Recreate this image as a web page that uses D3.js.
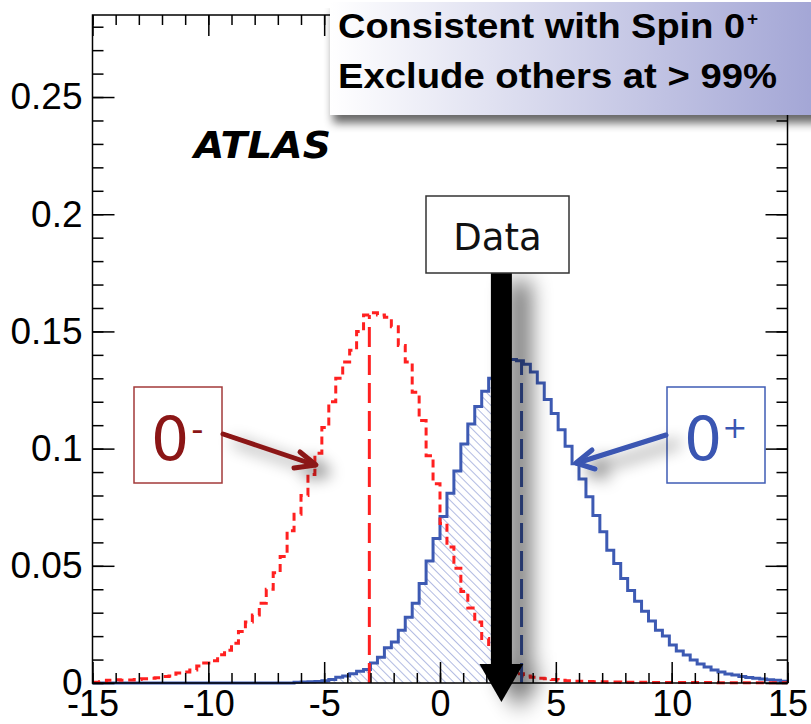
<!DOCTYPE html>
<html><head><meta charset="utf-8">
<script src="https://cdn.jsdelivr.net/npm/d3@7"></script>
<style>body{margin:0;background:#fff}</style>
</head><body><svg id="c" width="811" height="724"></svg>
<script>
// ---- data ----
const binLow = -15, binHigh = 15, nBins = 100;
const blueValues = [
 0,0,0,0,0,0,0,0,0,0, 0,0,0,0,0,0,0,0,0,0, 0,0,0,0,0,0,0,0,0,
 0.0003,0.0004,0.0005,0.0006,0.001,0.0015,0.0025,0.003,0.004,0.005,0.0058,
 0.0085,0.011,0.015,0.0175,0.0225,0.028,0.034,0.0425,0.052,0.0617,
 0.071,0.081,0.0905,0.102,0.1105,0.118,0.1245,0.130,0.134,0.137,
 0.138,0.1375,0.136,0.1327,0.128,0.121,0.115,0.108,0.101,0.0935,
 0.087,0.0795,0.0715,0.0645,0.0566,0.051,0.0446,0.0395,0.0349,0.0306,
 0.0264,0.0225,0.020,0.0162,0.0136,0.0119,0.0098,0.0081,0.0068,0.0055,
 0.0047,0.0038,0.0034,0.0028,0.0024,0.002,0.0017,0.0014,0.0012,0.0008];
const redValues = [
 0.0003,0.0005,0.0012,0.0014,0.0012,0.0013,0.0015,0.0018,0.002,0.0022,
 0.0028,0.003,0.0043,0.0047,0.0055,0.0072,0.0085,0.0095,0.012,0.014,
 0.017,0.022,0.026,0.029,0.034,0.040,0.047,0.054,0.065,0.072,
 0.080,0.089,0.098,0.109,0.120,0.130,0.137,0.142,0.150,0.157,
 0.158,0.157,0.156,0.152,0.144,0.137,0.124,0.112,0.097,0.085,
 0.068,0.058,0.049,0.039,0.032,0.026,0.019,0.015,0.010,0.007,
 0.005,0.004,0.003,0.0025,0.002,0.0018,0.0015,0.0012,0.001,0.0008,
 0.0007,0.0006,0.0005,0.0005,0.0004,0.0004,0.0003,0.0003,0.0003,0.0003,
 0.0002,0.0002,0.0002,0.0002,0.0002,0.0002,0.0002,0.0002,0.0002,0.0002,
 0.0001,0.0001,0.0001,0.0001,0.0001,0.0001,0.0001,0.0001,0.0001,0.0001];
const xTickValues = [-15,-10,-5,0,5,10,15];
const xTickLabels = ["-15","-10","-5","0","5","10","15"];
const yTickValues = [0,0.05,0.1,0.15,0.2,0.25];
const yTickLabels = ["0","0.05","0.1","0.15","0.2","0.25"];
const dataValue = 2.65;
const medianRed = -3.05, medianBlue = 3.52;
const boxLines = ["Consistent with Spin 0", "Exclude others at > 99%"];

// ---- scales ----
const svg = d3.select("#c");
const X0 = 92.5, X1 = 787.5, Y0 = 683, Y1 = 15;
const x = d3.scaleLinear().domain([binLow, binHigh]).range([X0, X1]);
const y = d3.scaleLinear().domain([0, 0.285]).range([Y0, Y1]);
const bw = (binHigh - binLow) / nBins;

const defs = svg.append("defs");
const mkShadow = (id, dx, dy, sd, op) => {
  const f = defs.append("filter").attr("id", id).attr("filterUnits", "userSpaceOnUse")
    .attr("x", 0).attr("y", 0).attr("width", 811).attr("height", 724);
  f.append("feGaussianBlur").attr("in", "SourceAlpha").attr("stdDeviation", sd).attr("result", "b");
  f.append("feOffset").attr("in", "b").attr("dx", dx).attr("dy", dy).attr("result", "o");
  const ct = f.append("feComponentTransfer").attr("in", "o").attr("result", "s");
  ct.append("feFuncA").attr("type", "linear").attr("slope", op);
  const m = f.append("feMerge");
  m.append("feMergeNode").attr("in", "s");
  m.append("feMergeNode").attr("in", "SourceGraphic");
};
mkShadow("sh", 18, 8, 11, 0.6);
mkShadow("shArr", 12, 8, 8, 0.55);
mkShadow("shBox", 3, 8, 5, 0.6);

const pat = defs.append("pattern").attr("id", "hatch").attr("patternUnits", "userSpaceOnUse")
  .attr("width", 6).attr("height", 6).attr("patternTransform", "rotate(-45)");
pat.append("line").attr("x1", 0).attr("y1", 0).attr("x2", 0).attr("y2", 6)
  .attr("stroke", "#8796d2").attr("stroke-width", 1.3);

const grad = defs.append("linearGradient").attr("id", "boxg").attr("x1", 0).attr("x2", 1).attr("y1", 0).attr("y2", 0);
grad.append("stop").attr("offset", 0).attr("stop-color", "#ffffff");
grad.append("stop").attr("offset", 1).attr("stop-color", "#a2a5d5");

// step path builder
const stepPts = vals => {
  const p = [];
  vals.forEach((v, i) => { p.push([binLow + i * bw, v]); p.push([binLow + (i + 1) * bw, v]); });
  return p;
};
const line = d3.line().x(d => x(d[0])).y(d => y(d[1]));

// hatched area under blue up to data
const clip = defs.append("clipPath").attr("id", "clipData");
clip.append("rect").attr("x", X0).attr("y", Y1).attr("width", x(dataValue) - X0).attr("height", Y0 - Y1);
const area = d3.area().x(d => x(d[0])).y0(y(0)).y1(d => y(d[1]));
svg.append("path").attr("d", area(stepPts(blueValues))).attr("fill", "url(#hatch)")
  .attr("clip-path", "url(#clipData)");

// histograms
svg.append("path").attr("d", line(stepPts(blueValues))).attr("fill", "none")
  .attr("stroke", "#3d5ab3").attr("stroke-width", 3);
svg.append("path").attr("d", line(stepPts(redValues))).attr("fill", "none")
  .attr("stroke", "#ff2020").attr("stroke-width", 3).attr("stroke-dasharray", "8,5");

// medians
const binVal = (vals, v) => vals[Math.floor((v - binLow) / bw)];
svg.append("line").attr("x1", x(medianRed)).attr("x2", x(medianRed))
  .attr("y1", y(0)).attr("y2", y(binVal(redValues, medianRed)))
  .attr("stroke", "#ff2020").attr("stroke-width", 3).attr("stroke-dasharray", "20,8");
svg.append("line").attr("x1", x(medianBlue)).attr("x2", x(medianBlue))
  .attr("y1", y(0)).attr("y2", y(binVal(blueValues, medianBlue)))
  .attr("stroke", "#3d5ab3").attr("stroke-width", 3).attr("stroke-dasharray", "20,8");

// axes
const font = "'Liberation Sans', Arial, sans-serif";
const styleAxis = g => {
  g.select(".domain").remove();
  g.selectAll("line").attr("stroke", "#000").attr("stroke-width", 1.5);
  g.selectAll("text").attr("font-family", font).attr("font-size", 36).attr("fill", "#000");
};
const minorX = d3.range(binLow, binHigh + 0.001, 1);
const minorY = d3.range(0, 0.2851, 0.01);
svg.append("g").attr("transform", `translate(0,${Y0})`)
  .call(d3.axisBottom(x).tickValues(minorX).tickSize(-10).tickFormat("")).call(styleAxis);
svg.append("g").attr("transform", `translate(0,${Y0})`)
  .call(d3.axisBottom(x).tickValues(xTickValues).tickSize(-21).tickPadding(7)
    .tickFormat((d, i) => xTickLabels[i])).call(styleAxis);
svg.append("g").attr("transform", `translate(0,${Y1})`)
  .call(d3.axisTop(x).tickValues(minorX).tickSize(-10).tickFormat("")).call(styleAxis);
svg.append("g").attr("transform", `translate(0,${Y1})`)
  .call(d3.axisTop(x).tickValues(xTickValues).tickSize(-21).tickFormat("")).call(styleAxis);
svg.append("g").attr("transform", `translate(${X0},0)`)
  .call(d3.axisLeft(y).tickValues(minorY).tickSize(-11).tickFormat("")).call(styleAxis);
svg.append("g").attr("transform", `translate(${X0},0)`)
  .call(d3.axisLeft(y).tickValues(yTickValues).tickSize(-22).tickPadding(10)
    .tickFormat((d, i) => yTickLabels[i])).call(g => { styleAxis(g); g.selectAll("text").attr("font-size", 37); });
svg.append("g").attr("transform", `translate(${X1},0)`)
  .call(d3.axisRight(y).tickValues(minorY).tickSize(-11).tickFormat("")).call(styleAxis);
svg.append("g").attr("transform", `translate(${X1},0)`)
  .call(d3.axisRight(y).tickValues(yTickValues).tickSize(-22).tickFormat("")).call(styleAxis);
svg.append("rect").attr("x", X0).attr("y", Y1).attr("width", X1 - X0).attr("height", Y0 - Y1)
  .attr("fill", "none").attr("stroke", "#000").attr("stroke-width", 1.5);

// ATLAS
svg.append("text").attr("x", 194).attr("y", 158).text("ATLAS")
  .attr("textLength", 137).attr("lengthAdjust", "spacingAndGlyphs")
  .attr("font-family", "'DejaVu Sans', sans-serif").attr("font-weight", "bold")
  .attr("font-style", "italic").attr("font-size", 38).attr("fill", "#000");

// Data arrow
const xd = x(dataValue);
const ag = svg.append("g").attr("filter", "url(#sh)");
ag.append("rect").attr("x", xd - 10.5).attr("y", 273).attr("width", 21).attr("height", 395).attr("fill", "#050505");
ag.append("path").attr("d", `M${xd - 22},664 L${xd + 22},664 L${xd},702 Z`).attr("fill", "#050505");
svg.append("rect").attr("x", 426).attr("y", 196).attr("width", 143).attr("height", 77)
  .attr("fill", "#fff").attr("stroke", "#333").attr("stroke-width", 1.5);
svg.append("text").attr("x", 497.5).attr("y", 250).attr("text-anchor", "middle").text("Data")
  .attr("font-family", "'DejaVu Sans', sans-serif").attr("font-size", 37).attr("fill", "#111");

// 0- label
const dred = "#8b1616";
svg.append("rect").attr("x", 134).attr("y", 387).attr("width", 88).attr("height", 96)
  .attr("fill", "#fff").attr("stroke", "#a33a3a").attr("stroke-width", 1.5);
const tm = svg.append("text").attr("x", 151).attr("y", 460)
  .attr("font-family", "'DejaVu Sans', sans-serif").attr("font-size", 60).attr("fill", dred);
tm.append("tspan").text("0");
tm.append("tspan").attr("font-size", 34).attr("dy", -19).attr("dx", 2).text("-");
const g1 = svg.append("g").attr("filter", "url(#shArr)").attr("stroke", dred).attr("stroke-width", 5)
  .attr("fill", "none").attr("stroke-linecap", "round").attr("stroke-linejoin", "round");
g1.append("path").attr("d", "M223,434 L315,465");
g1.append("path").attr("d", "M300,452 L316,465 L294,468");

// 0+ label
const dblue = "#3a56b2";
svg.append("rect").attr("x", 667).attr("y", 387).attr("width", 98).attr("height", 96)
  .attr("fill", "#fff").attr("stroke", "#3f5cb5").attr("stroke-width", 1.5);
const tp = svg.append("text").attr("x", 684).attr("y", 460)
  .attr("font-family", "'DejaVu Sans', sans-serif").attr("font-size", 60).attr("fill", dblue);
tp.append("tspan").text("0");
tp.append("tspan").attr("font-size", 30).attr("dy", -22).attr("dx", 0).text("+");
const g2 = svg.append("g").attr("filter", "url(#shArr)").attr("stroke", dblue).attr("stroke-width", 5)
  .attr("fill", "none").attr("stroke-linecap", "round").attr("stroke-linejoin", "round");
g2.append("path").attr("d", "M666,435 L577,463");
g2.append("path").attr("d", "M592,450 L576,463 L595,469");

// top box
svg.append("rect").attr("x", 330).attr("y", 2).attr("width", 490).attr("height", 113)
  .attr("fill", "url(#boxg)").attr("filter", "url(#shBox)");
const t1 = svg.append("text").attr("x", 338).attr("y", 38)
  .attr("font-family", font).attr("font-weight", "bold").attr("font-size", 35).attr("fill", "#000");
t1.append("tspan").text(boxLines[0]).attr("textLength", 407).attr("lengthAdjust", "spacingAndGlyphs");
t1.append("tspan").attr("font-size", 19).attr("dy", -13).attr("dx", 2).text("+");
svg.append("text").attr("x", 338).attr("y", 88).text(boxLines[1])
  .attr("textLength", 439).attr("lengthAdjust", "spacingAndGlyphs")
  .attr("font-family", font).attr("font-weight", "bold").attr("font-size", 35).attr("fill", "#000");
</script></body></html>
